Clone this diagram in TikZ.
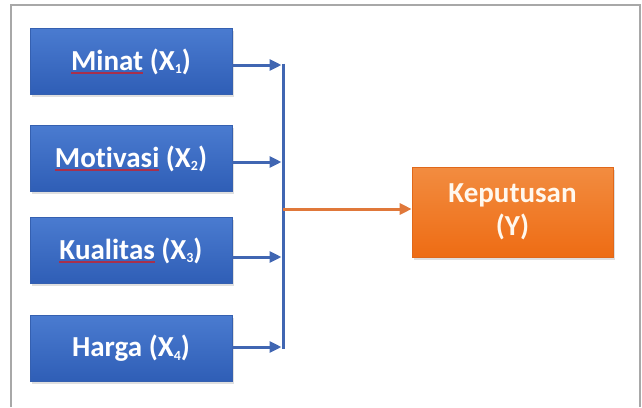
\documentclass[tikz,border=0pt]{standalone}
\usepackage{fontspec}
\setmainfont{Carlito}[Ligatures=CommonOff]
\usetikzlibrary{shadows,arrows.meta}
\definecolor{framegray}{HTML}{A8A8A8}
\definecolor{bluetop}{HTML}{4A7BD0}
\definecolor{bluebot}{HTML}{2F5EB6}
\definecolor{blueedge}{HTML}{3560B0}
\definecolor{blueline}{HTML}{4066B2}
\definecolor{orangetop}{HTML}{F28C40}
\definecolor{orangebot}{HTML}{EE6C14}
\definecolor{orangeedge}{HTML}{E0681A}
\definecolor{orangeline}{HTML}{E0783A}
\definecolor{spellred}{HTML}{A8304C}
\definecolor{textcream}{HTML}{FFF8EE}
\newsavebox\spellbox
\newcommand\spell[1]{\sbox\spellbox{#1}\rlap{\raisebox{-3.5pt}{\textcolor{spellred}{\rule{\wd\spellbox}{1.2pt}}}}\usebox\spellbox}
\newcommand\subidx[1]{\raisebox{-3.5pt}{\fontsize{14}{14}\selectfont #1}}
\begin{document}
\begin{tikzpicture}[x=1pt,y=-1pt,
  frame/.style={draw=framegray,line width=1.6pt},
  bbox/.style={minimum width=202pt,minimum height=66pt,inner sep=0pt,
    top color=bluetop,bottom color=bluebot,draw=blueedge,line width=0.6pt,
    drop shadow={opacity=0.25,shadow xshift=1.5pt,shadow yshift=-2.5pt},
    font=\fontsize{29}{32}\selectfont\bfseries,text=white},
  obox/.style={minimum width=201pt,minimum height=90pt,inner sep=0pt,
    top color=orangetop,bottom color=orangebot,draw=orangeedge,line width=0.6pt,
    drop shadow={opacity=0.25,shadow xshift=1.5pt,shadow yshift=-2.5pt},
    font=\fontsize{29}{33}\selectfont\bfseries,text=textcream,align=center},
  bline/.style={draw=blueline,line width=3pt},
  barrow/.style={bline,-{Triangle[length=12pt,width=11pt]},shorten >=1.5pt},
  oarrow/.style={draw=orangeline,line width=3pt,-{Triangle[length=12pt,width=11pt]}}]
\useasboundingbox (0,0) rectangle (642,407);
\draw[frame] (11,407) -- (11,5) -- (640,5) -- (640,407);
\node[bbox] (b1) at (131,61.5) {\spell{Minat} (X\subidx{1})};
\node[bbox] (b2) at (131,158.5) {\spell{Motivasi} (X\subidx{2})};
\node[bbox] (b3) at (131,250.5) {\spell{Kualitas} (X\subidx{3})};
\node[bbox] (b4) at (131,348.5) {Harga (X\subidx{4})};
\node[obox] (y) at (512.5,212) {Keputusan\\(Y)};
\coordinate (jt) at (283,63.5);
\coordinate (jb) at (283,348.5);
\coordinate (j1) at (283,65);
\coordinate (j2) at (283,162);
\coordinate (j3) at (283,257);
\coordinate (j4) at (283,347);
\coordinate (jm) at (283,209);
\draw[bline] (jt) -- (jb);
\draw[barrow] (b1.east |- j1) -- (j1);
\draw[barrow] (b2.east |- j2) -- (j2);
\draw[barrow] (b3.east |- j3) -- (j3);
\draw[barrow] (b4.east |- j4) -- (j4);
\draw[oarrow] (jm) -- (y.west |- jm);
\end{tikzpicture}
\end{document}
